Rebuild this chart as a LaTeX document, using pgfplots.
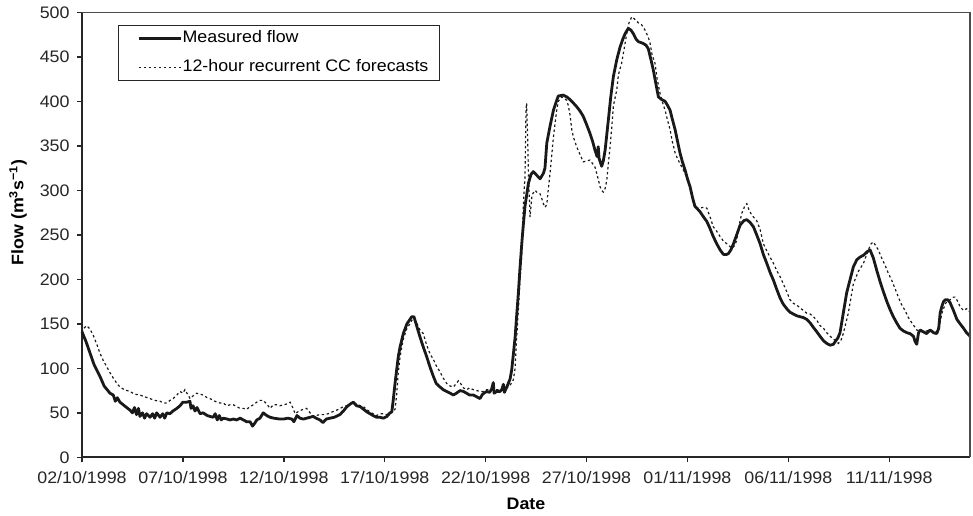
\documentclass[border=0pt]{standalone}
\usepackage{fontspec}
\setmainfont{Liberation Sans}[FakeStretch=1.07]
\usepackage{pgfplots}
\pgfplotsset{compat=1.18}

% Measured river flow, days after 02/10/1998 00:00
\newcommand{\measured}{
(0.00,141) (0.20,130) (0.40,117) (0.60,104) (0.89,91) (1.10,80) (1.39,72) (1.55,70)
(1.65,63) (1.75,67) (1.88,62) (2.10,58) (2.38,53) (2.50,50) (2.60,56) (2.70,48)
(2.80,55) (2.87,46) (3.00,50) (3.10,44) (3.20,49) (3.37,45) (3.50,49) (3.60,44)
(3.70,50) (3.87,45) (4.00,49) (4.10,44) (4.20,50) (4.36,49) (4.50,52) (4.70,55)
(4.86,58) (5.00,62) (5.20,62) (5.35,63) (5.40,55) (5.50,58) (5.60,52) (5.70,56)
(5.85,49) (6.00,50) (6.20,47) (6.34,46) (6.50,45) (6.60,49) (6.70,42) (6.80,47)
(6.90,42) (7.00,44) (7.20,43) (7.33,42) (7.50,43) (7.67,42) (7.83,44) (8.00,42)
(8.16,40) (8.33,40) (8.45,35) (8.55,38) (8.66,42) (8.82,44) (8.98,50) (9.15,47)
(9.32,45) (9.50,44) (9.81,43) (9.98,43) (10.20,44) (10.40,43) (10.50,40) (10.65,47)
(10.80,44) (10.97,43) (11.13,44) (11.30,45) (11.45,46) (11.60,44) (11.79,42) (11.94,39)
(12.10,43) (12.29,44) (12.50,45) (12.78,48) (12.95,52) (13.13,57) (13.30,60) (13.44,62)
(13.60,58) (13.78,57) (13.95,54) (14.12,51) (14.27,49) (14.42,47) (14.60,45) (14.77,45)
(14.93,44) (15.11,46) (15.26,50) (15.35,51) (15.41,62) (15.51,83) (15.59,98) (15.67,113)
(15.76,124) (15.92,139) (16.10,150) (16.34,158) (16.45,158) (16.50,154) (16.75,135) (16.91,124)
(17.08,113) (17.25,101) (17.41,91) (17.55,83) (17.74,79) (17.90,76) (18.07,74) (18.25,72)
(18.40,70) (18.55,72) (18.73,75) (18.90,74) (19.06,72) (19.20,70) (19.39,70) (19.56,68)
(19.72,66) (19.85,71) (20.05,74) (20.20,73) (20.30,77) (20.38,84) (20.42,72) (20.55,74)
(20.71,74) (20.80,76) (20.88,82) (20.93,73) (21.05,79) (21.21,88) (21.29,98) (21.37,115)
(21.46,135) (21.54,160) (21.62,184) (21.70,212) (21.79,240) (21.87,262) (21.95,282) (22.12,308)
(22.25,318) (22.36,321) (22.53,317) (22.70,313) (22.86,319) (22.94,325) (23.03,353) (23.19,372)
(23.36,390) (23.52,401) (23.60,406) (23.85,407) (24.02,405) (24.18,402) (24.35,398) (24.51,394)
(24.68,389) (24.84,383) (25.00,374) (25.17,364) (25.30,355) (25.42,345) (25.52,338) (25.58,349)
(25.62,336) (25.75,327) (25.83,333) (25.92,345) (26.00,362) (26.08,379) (26.20,405) (26.33,428)
(26.50,447) (26.66,461) (26.80,470) (26.91,476) (27.07,482) (27.20,480) (27.32,476) (27.45,470)
(27.57,467) (27.70,466) (27.81,465) (27.95,463) (28.06,459) (28.20,446) (28.31,435) (28.45,418)
(28.56,405) (28.72,402) (28.89,400) (29.00,396) (29.14,390) (29.25,380) (29.39,368) (29.50,356)
(29.63,342) (29.75,332) (29.88,323) (30.00,313) (30.13,304) (30.25,292) (30.37,282) (30.50,279)
(30.62,276) (30.80,270) (30.96,265) (31.12,257) (31.28,248) (31.45,240) (31.62,233) (31.78,228)
(31.95,228) (32.03,229) (32.15,233) (32.28,240) (32.44,250) (32.61,261) (32.80,266) (32.94,267)
(33.10,264) (33.27,259) (33.43,250) (33.60,240) (33.76,228) (33.93,218) (34.09,208) (34.26,199)
(34.42,189) (34.59,179) (34.75,172) (34.92,167) (35.08,163) (35.25,161) (35.42,159) (35.58,158)
(35.75,157) (35.91,155) (36.08,151) (36.24,146) (36.41,141) (36.57,136) (36.74,131) (36.90,128)
(37.07,126) (37.23,127) (37.35,131) (37.45,134) (37.56,140) (37.72,162) (37.89,185) (38.06,200)
(38.22,214) (38.39,222) (38.55,225) (38.72,227) (38.90,231) (39.05,233) (39.21,224) (39.38,210)
(39.55,197) (39.71,186) (39.88,175) (40.04,166) (40.20,158) (40.37,151) (40.53,145) (40.70,142)
(40.87,140) (41.03,139) (41.20,136) (41.28,130) (41.36,127) (41.45,140) (41.53,143) (41.69,141)
(41.85,139) (42.02,143) (42.20,140) (42.35,139) (42.45,145) (42.52,162) (42.61,170) (42.69,175)
(42.77,177) (42.90,177) (43.01,174) (43.18,165) (43.35,155) (43.51,150) (43.68,145) (43.83,140)
(44.00,136)
}

% 12-hour recurrent CC forecasts
\newcommand{\forecast}{
(0.00,140) (0.10,145) (0.23,148) (0.40,144) (0.56,137) (0.75,126) (0.89,117) (1.05,109)
(1.22,102) (1.39,95) (1.55,89) (1.70,84) (1.88,79) (2.10,76) (2.38,74) (2.60,71)
(2.87,70) (3.10,68) (3.37,66) (3.60,64) (3.87,63) (4.05,61) (4.20,61) (4.36,64)
(4.52,66) (4.70,70) (4.86,74) (5.00,72) (5.10,76) (5.20,72) (5.27,70) (5.35,66)
(5.45,68) (5.60,71) (5.68,72) (5.85,71) (6.01,70) (6.20,67) (6.34,66) (6.51,64)
(6.67,62) (6.84,61) (7.00,61) (7.17,58) (7.33,59) (7.50,59) (7.67,57) (7.83,55)
(7.99,55) (8.16,54) (8.33,57) (8.49,59) (8.66,62) (8.82,64) (8.98,64) (9.15,60)
(9.32,55) (9.48,59) (9.65,59) (9.81,58) (9.98,59) (10.15,60) (10.31,62) (10.46,55)
(10.56,49) (10.75,52) (10.97,54) (11.13,55) (11.30,50) (11.45,46) (11.60,47) (11.79,48)
(12.00,48) (12.21,49) (12.40,51) (12.62,53) (12.80,55) (12.95,57) (13.12,58) (13.30,60)
(13.44,62) (13.60,60) (13.78,58) (13.94,57) (14.10,54) (14.27,51) (14.42,49) (14.60,47)
(14.77,49) (14.93,49) (15.11,48) (15.26,50) (15.41,51) (15.51,54) (15.59,70) (15.67,95)
(15.76,113) (15.92,133) (16.10,145) (16.25,150) (16.34,154) (16.45,156) (16.60,150) (16.75,143)
(16.91,139) (17.08,126) (17.25,116) (17.41,110) (17.55,103) (17.74,96) (17.90,89) (18.07,83)
(18.25,80) (18.40,79) (18.55,83) (18.65,86) (18.73,84) (18.90,78) (19.06,76) (19.20,78)
(19.39,76) (19.56,75) (19.72,74) (19.89,74) (20.05,76) (20.38,76) (20.71,76) (20.88,77)
(21.05,78) (21.21,81) (21.37,87) (21.46,100) (21.54,135) (21.62,165) (21.70,199) (21.79,227)
(21.87,285) (21.95,315) (22.00,390) (22.03,398) (22.08,360) (22.12,319) (22.20,270) (22.30,295)
(22.45,300) (22.53,298) (22.70,296) (22.78,291) (22.86,285) (22.94,281) (23.03,284) (23.10,300)
(23.19,319) (23.36,360) (23.52,390) (23.60,400) (23.77,405) (23.93,403) (24.02,401) (24.10,395)
(24.18,385) (24.27,368) (24.35,360) (24.51,349) (24.68,340) (24.84,332) (25.00,333) (25.17,334)
(25.30,330) (25.42,326) (25.55,315) (25.67,304) (25.75,300) (25.83,298) (25.92,302) (26.00,311)
(26.08,330) (26.17,350) (26.25,371) (26.33,395) (26.50,413) (26.58,430) (26.74,443) (26.91,465)
(26.99,476) (27.10,488) (27.24,495) (27.35,493) (27.57,488) (27.73,486) (27.90,480) (28.06,472)
(28.15,465) (28.25,452) (28.39,443) (28.50,425) (28.64,409) (28.75,400) (28.89,390) (29.00,380)
(29.14,368) (29.25,355) (29.39,342) (29.50,336) (29.63,330) (29.75,325) (29.88,319) (30.00,312)
(30.13,304) (30.25,292) (30.37,282) (30.50,280) (30.62,280) (30.80,281) (30.96,280) (31.12,270)
(31.28,259) (31.45,254) (31.62,248) (31.78,243) (31.95,240) (32.10,237) (32.20,235) (32.35,238)
(32.44,244) (32.55,260) (32.69,274) (32.85,283) (32.94,285) (33.05,278) (33.19,272) (33.43,266)
(33.60,256) (33.76,240) (33.93,232) (34.09,225) (34.26,218) (34.42,210) (34.59,203) (34.75,195)
(34.92,186) (35.08,177) (35.25,173) (35.42,171) (35.58,168) (35.74,165) (35.91,162) (36.08,161)
(36.24,158) (36.41,154) (36.57,148) (36.74,145) (36.90,140) (37.07,136) (37.23,133) (37.40,130)
(37.48,128) (37.60,131) (37.72,139) (37.97,162) (38.22,195) (38.47,209) (38.72,218) (38.96,233)
(39.10,240) (39.21,242) (39.38,236) (39.46,233) (39.62,224) (39.79,216) (39.95,207) (40.12,199)
(40.28,190) (40.45,180) (40.60,172) (40.78,165) (40.95,157) (41.12,151) (41.28,146) (41.36,143)
(41.53,142) (41.69,141) (41.85,142) (42.02,143) (42.20,142) (42.35,141) (42.50,150) (42.61,162)
(42.77,172) (42.85,175) (43.01,177) (43.18,180) (43.26,180) (43.40,175) (43.51,169) (43.68,165)
(43.83,167) (43.92,164) (44.00,164)
}

\begin{document}
\begin{tikzpicture}[font=\fontsize{12.5}{15}\selectfont]
\begin{axis}[
  at={(0pt,0pt)}, anchor=south west,
  scale only axis,
  width=666pt, height=333.75pt,
  xmin=0, xmax=44, ymin=0, ymax=500,
  axis x line*=bottom, axis y line*=left,
  axis line style={line width=1.4pt, black!85, -},
  tick align=outside,
  major tick length=3.8pt,
  tick style={line width=1.1pt, black!85},
  xtick={0,5,10,15,20,25,30,35,40},
  xticklabels={02/10/1998,07/10/1998,12/10/1998,17/10/1998,22/10/1998,27/10/1998,01/11/1998,06/11/1998,11/11/1998},
  ytick={0,50,...,500},
  /pgf/number format/assume math mode=true,
  ticklabel style={font=\fontsize{12.5}{15}\selectfont, text=black!85},
  yticklabel style={xshift=-2pt},
  xticklabel style={yshift=-3pt},
  xlabel={\bfseries Date},
  ylabel={\bfseries Flow (m\textsuperscript{3}s\textsuperscript{−1})},
  xlabel style={at={(rel axis cs:0.5,-0.105)}, anchor=center},
  ylabel style={at={(rel axis cs:-0.072,0.55)}, anchor=center},
  legend cell align=left,
  legend style={
    at={(rel axis cs:0.0405,0.9715)}, anchor=north west,
    draw=black!85, line width=0.8pt,
    inner xsep=8pt, inner ysep=4pt,
    row sep=9.5pt, column sep=0pt,
    nodes={inner xsep=0pt, inner ysep=0pt, text height=9pt, text depth=3pt},
    font=\fontsize{12.5}{15}\selectfont
  },
  legend image code/.code={
    \path (-6pt,0pt);
    \draw[#1] (0pt,0pt) -- (32pt,0pt);
  },
  clip=false,
]
\addplot[black!90, line width=2.1pt, line join=round] coordinates {\measured};
\addlegendentry{Measured flow}
\addplot[black!90, line width=0.9pt, dash pattern=on 1.8pt off 2pt] coordinates {\forecast};
\addlegendentry{12-hour recurrent CC forecasts}
% thin frame on the top and right sides
\draw[black!70, line width=0.9pt] (rel axis cs:0,1) -- (rel axis cs:1,1) -- (rel axis cs:1,0);
\end{axis}
\pgfresetboundingbox
\useasboundingbox (-61.5pt,-44pt) rectangle (668.25pt,343pt);
\end{tikzpicture}
\end{document}
